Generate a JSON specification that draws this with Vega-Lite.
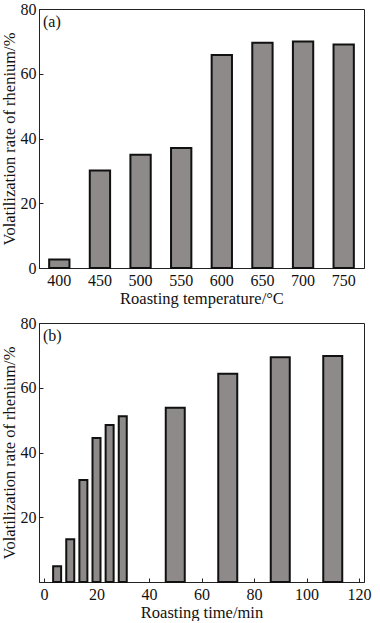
{
  "$schema": "https://vega.github.io/schema/vega-lite/v6.json",
  "padding": {"left": 0, "top": 0, "right": 0, "bottom": 0},
  "background": "white",
  "config": {
    "font": "Liberation Serif",
    "view": {"stroke": "#222", "strokeWidth": 1},
    "axis": {
      "labelFont": "Liberation Serif",
      "titleFont": "Liberation Serif",
      "labelFontSize": 16,
      "titleFontSize": 16.5,
      "titleFontWeight": "normal",
      "labelColor": "#111",
      "titleColor": "#111",
      "domainColor": "#222",
      "tickColor": "#222",
      "grid": false
    },
    "concat": {"spacing": 7}
  },
  "vconcat": [
    {
      "width": 325,
      "height": 259,
      "data": {"values": [
        {"temp": "400", "rate": 2.6},
        {"temp": "450", "rate": 30.1},
        {"temp": "500", "rate": 35.0},
        {"temp": "550", "rate": 37.1},
        {"temp": "600", "rate": 65.8},
        {"temp": "650", "rate": 69.6},
        {"temp": "700", "rate": 70.0},
        {"temp": "750", "rate": 69.0}
      ]},
      "layer": [
        {
          "mark": {"type": "bar", "fill": "#8e8a89", "stroke": "#111", "strokeWidth": 2},
          "encoding": {
            "x": {"field": "temp", "type": "ordinal", "sort": null,
                  "scale": {"paddingInner": 0.5, "paddingOuter": 0.25},
                  "axis": {"title": "Roasting temperature/°C", "labelAngle": 0, "ticks": false, "labelPadding": 4, "titlePadding": 2}},
            "y": {"field": "rate", "type": "quantitative",
                  "scale": {"domain": [0, 80], "nice": false},
                  "axis": {"title": "Volatilization rate of rhenium/%", "values": [0, 20, 40, 60, 80], "tickSize": -4, "labelPadding": 7, "titlePadding": 3}}
          }
        },
        {
          "data": {"values": [{"lab": "(a)"}]},
          "mark": {"type": "text", "align": "left", "baseline": "top", "fontSize": 16, "font": "Liberation Serif", "color": "#111", "x": 4, "y": 5},
          "encoding": {"text": {"field": "lab"}}
        }
      ]
    },
    {
      "width": 325,
      "height": 259,
      "data": {"values": [
        {"time": 5, "rate": 4.9, "group": "short"},
        {"time": 10, "rate": 13.2, "group": "short"},
        {"time": 15, "rate": 31.5, "group": "short"},
        {"time": 20, "rate": 44.5, "group": "short"},
        {"time": 25, "rate": 48.5, "group": "short"},
        {"time": 30, "rate": 51.2, "group": "short"},
        {"time": 50, "rate": 53.8, "group": "long"},
        {"time": 70, "rate": 64.3, "group": "long"},
        {"time": 90, "rate": 69.4, "group": "long"},
        {"time": 110, "rate": 69.8, "group": "long"}
      ]},
      "layer": [
        {
          "transform": [{"filter": "datum.group === 'short'"}],
          "mark": {"type": "bar", "fill": "#8e8a89", "stroke": "#111", "strokeWidth": 2, "size": 8},
          "encoding": {
            "x": {"field": "time", "type": "quantitative",
                  "scale": {"domain": [0, 120], "nice": false},
                  "axis": {"title": "Roasting time/min", "values": [0, 20, 40, 60, 80, 100, 120], "tickSize": -4, "labelPadding": 8, "titlePadding": 2}},
            "y": {"field": "rate", "type": "quantitative",
                  "scale": {"domain": [0, 80], "nice": false},
                  "axis": {"title": "Volatilization rate of rhenium/%", "values": [20, 40, 60, 80], "tickSize": -4, "labelPadding": 7, "titlePadding": 3}}
          }
        },
        {
          "transform": [{"filter": "datum.group === 'long'"}],
          "mark": {"type": "bar", "fill": "#8e8a89", "stroke": "#111", "strokeWidth": 2, "size": 19},
          "encoding": {
            "x": {"field": "time", "type": "quantitative"},
            "y": {"field": "rate", "type": "quantitative"}
          }
        },
        {
          "data": {"values": [{"lab": "(b)"}]},
          "mark": {"type": "text", "align": "left", "baseline": "top", "fontSize": 16, "font": "Liberation Serif", "color": "#111", "x": 4, "y": 5},
          "encoding": {"text": {"field": "lab"}}
        }
      ]
    }
  ]
}
